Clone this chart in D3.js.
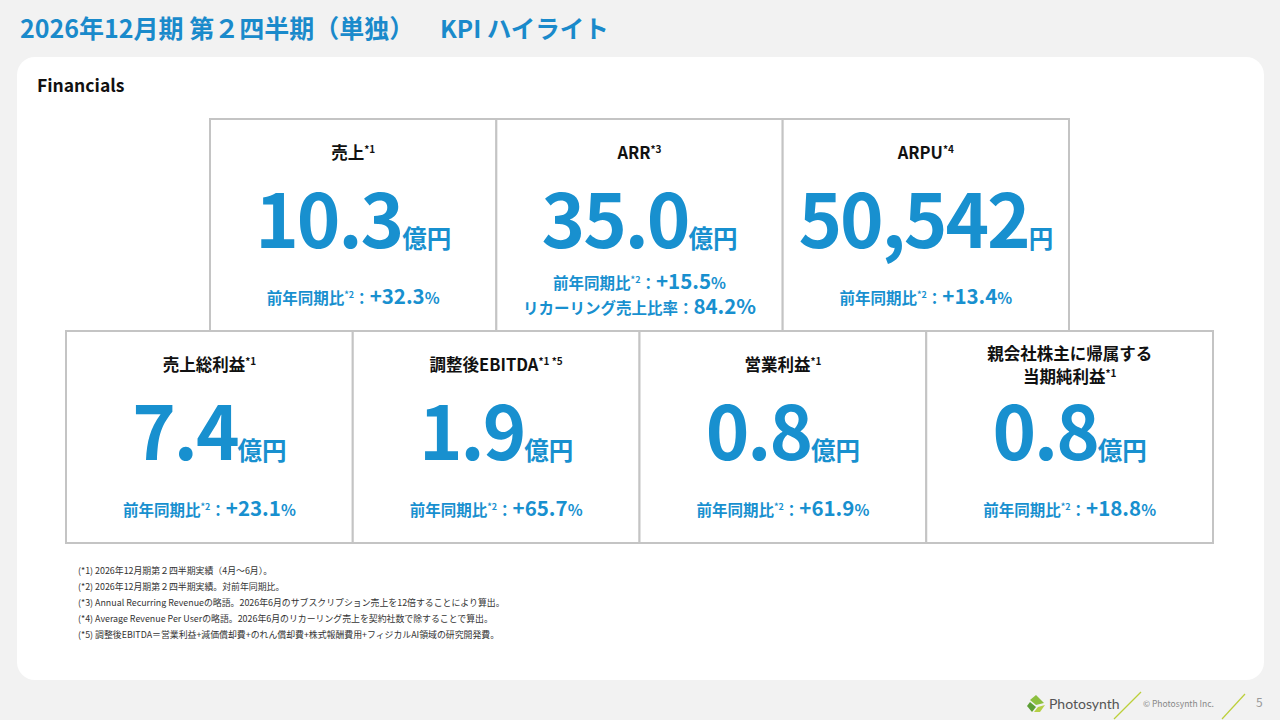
<!DOCTYPE html>
<html lang="ja">
<head>
<meta charset="utf-8">
<script src="https://cdn.jsdelivr.net/npm/d3@7"></script>
<style>
  body { margin: 0; background: #f2f2f2; }
  svg { display: block; font-family: "Noto Sans CJK JP", "Noto Sans", sans-serif; }
</style>
</head>
<body>
<div id="kpi"></div>
<script>
// KPI values
const kpiNames = ["売上", "ARR", "ARPU", "売上総利益", "調整後EBITDA", "営業利益", "親会社株主に帰属する|当期純利益"]
const kpiNotes = ["*1", "*3", "*4", "*1", "*1 *5", "*1", "*1"]
const kpiValues = [10.3, 35.0, 50542, 7.4, 1.9, 0.8, 0.8]
const kpiUnits = ["億円", "億円", "円", "億円", "億円", "億円", "億円"]
const kpiRow = [0, 0, 0, 1, 1, 1, 1]
const yoyValues = [32.3, 15.5, 13.4, 23.1, 65.7, 61.9, 18.8]
const recurringRatio = [null, 84.2, null, null, null, null, null]

const footnotes = [
    "(*1) 2026年12月期第２四半期実績（4月～6月）。",
    "(*2) 2026年12月期第２四半期実績。対前年同期比。",
    "(*3) Annual Recurring Revenueの略語。2026年6月のサブスクリプション売上を12倍することにより算出。",
    "(*4) Average Revenue Per Userの略語。2026年6月のリカーリング売上を契約社数で除することで算出。",
    "(*5) 調整後EBITDA＝営業利益+減価償却費+のれん償却費+株式報酬費用+フィジカルAI領域の研究開発費。"
]

const width = 1280
const height = 720
const blue = "#1890cf"
const titleBlue = "#1a8acb"
const borderGray = "#c4c4c4"

const svg = d3.select("#kpi").append("svg")
    .attr("width", width)
    .attr("height", height)

svg.append("rect")
    .attr("width", width)
    .attr("height", height)
    .attr("fill", "#f2f2f2")

// page title
svg.append("text")
    .attr("x", 20)
    .attr("y", 38)
    .attr("fill", titleBlue)
    .style("font-size", "25px")
    .style("font-weight", "bold")
    .text("2026年12月期 第２四半期（単独）")
svg.append("text")
    .attr("x", 440)
    .attr("y", 38)
    .attr("fill", titleBlue)
    .style("font-size", "24.5px")
    .style("font-weight", "bold")
    .text("KPI ハイライト")

// white panel
svg.append("rect")
    .attr("x", 17)
    .attr("y", 57)
    .attr("width", 1247)
    .attr("height", 623)
    .attr("rx", 18)
    .attr("fill", "white")

svg.append("text")
    .attr("x", 37)
    .attr("y", 92)
    .attr("fill", "#111")
    .style("font-size", "17.5px")
    .style("font-weight", "bold")
    .text("Financials")

// layout scales
const idx = d3.range(kpiNames.length)
const topIdx = idx.filter(i => kpiRow[i] === 0)
const botIdx = idx.filter(i => kpiRow[i] === 1)

const xTop = d3.scaleBand().domain(topIdx).range([210, 1069])
const xBot = d3.scaleBand().domain(botIdx).range([66, 1213])
const y = d3.scaleBand().domain([0, 1]).range([119, 543])

const xPos = i => kpiRow[i] === 0 ? xTop(i) : xBot(i)
const bw = i => kpiRow[i] === 0 ? xTop.bandwidth() : xBot.bandwidth()

const fmtVal = (v, u) => u === "円" ? d3.format(",")(v) : d3.format(".1f")(v)

const cards = svg.selectAll(".card")
    .data(idx)
    .join("g")
        .attr("class", "card")
        .attr("transform", i => `translate(${xPos(i)},${y(kpiRow[i])})`)

cards.append("rect")
    .attr("width", i => bw(i))
    .attr("height", y.bandwidth())
    .attr("fill", "white")
    .attr("stroke", borderGray)
    .attr("stroke-width", 2)

// card title (with superscript note)
cards.each(function(i) {
    const g = d3.select(this)
    const cx = bw(i) / 2
    const lines = kpiNames[i].split("|")
    const y0 = lines.length > 1 ? 29 : 40
    lines.forEach((line, k) => {
        const t = g.append("text")
            .attr("x", cx)
            .attr("y", y0 + k * 22.5)
            .attr("text-anchor", "middle")
            .attr("fill", "#111")
            .style("font-size", "16.5px")
            .style("font-weight", "bold")
        t.append("tspan").text(line)
        if (k === lines.length - 1) {
            t.append("tspan")
                .attr("dy", -6)
                .style("font-size", "10px")
                .text(kpiNotes[i])
        }
    })

    // big value
    const v = g.append("text")
        .attr("x", cx)
        .attr("y", 129)
        .attr("text-anchor", "middle")
        .attr("fill", blue)
        .style("font-weight", "bold")
    v.append("tspan")
        .style("font-size", "74px")
        .style("letter-spacing", "-2px")
        .text(fmtVal(kpiValues[i], kpiUnits[i]))
    v.append("tspan")
        .style("font-size", "24.5px")
        .text(kpiUnits[i])

    // year over year
    const twoLine = recurringRatio[i] != null
    const s = g.append("text")
        .attr("x", cx)
        .attr("y", twoLine ? 170 : 185)
        .attr("text-anchor", "middle")
        .attr("fill", blue)
        .style("font-weight", "bold")
    s.append("tspan").style("font-size", "15.5px").text("前年同期比")
    s.append("tspan").attr("dy", -6).style("font-size", "9px").text("*2")
    s.append("tspan").attr("dy", 6).style("font-size", "15.5px").text("：")
    s.append("tspan").style("font-size", "20.5px").text("+" + d3.format(".1f")(yoyValues[i]))
    s.append("tspan").style("font-size", "15.5px").text("%")

    if (twoLine) {
        const r = g.append("text")
            .attr("x", cx)
            .attr("y", 195)
            .attr("text-anchor", "middle")
            .attr("fill", blue)
            .style("font-weight", "bold")
        r.append("tspan").style("font-size", "15.5px").text("リカーリング売上比率：")
        r.append("tspan").style("font-size", "20.5px").text(d3.format(".1f")(recurringRatio[i]) + "%")
    }
})

// footnotes
svg.selectAll(".note")
    .data(footnotes)
    .join("text")
        .attr("class", "note")
        .attr("x", 78)
        .attr("y", (d, i) => 574 + i * 16)
        .attr("fill", "#333")
        .style("font-size", "8.9px")
        .text(d => d)

// footer
const foot = svg.append("g")
const leaf = [
    [[1036, 695], [1044, 703], [1036, 705], [1030, 700]],
    [[1030, 702], [1036, 707], [1032, 712], [1027, 706]],
    [[1038, 707], [1045, 705], [1040, 712], [1034, 712]]
]
const leafColors = ["#8cbf3f", "#5d9e35", "#b5cf45"]
foot.selectAll("polygon")
    .data(leaf)
    .join("polygon")
        .attr("points", d => d.join(" "))
        .attr("fill", (d, i) => leafColors[i])
foot.append("text")
    .attr("x", 1049)
    .attr("y", 709)
    .attr("fill", "#555")
    .style("font-family", "Lato, 'Noto Sans', sans-serif")
    .style("font-size", "14px")
    .text("Photosynth")
foot.append("line")
    .attr("x1", 1114).attr("y1", 719).attr("x2", 1141).attr("y2", 692)
    .attr("stroke", "#bccf3a").attr("stroke-width", 1.2)
foot.append("line")
    .attr("x1", 1222).attr("y1", 719).attr("x2", 1245).attr("y2", 694)
    .attr("stroke", "#bccf3a").attr("stroke-width", 1.2)
foot.append("text")
    .attr("x", 1143)
    .attr("y", 707)
    .attr("fill", "#888")
    .style("font-size", "8.5px")
    .text("© Photosynth Inc.")
foot.append("text")
    .attr("x", 1256)
    .attr("y", 707)
    .attr("fill", "#999")
    .style("font-size", "12px")
    .text("5")
</script>
</body>
</html>
